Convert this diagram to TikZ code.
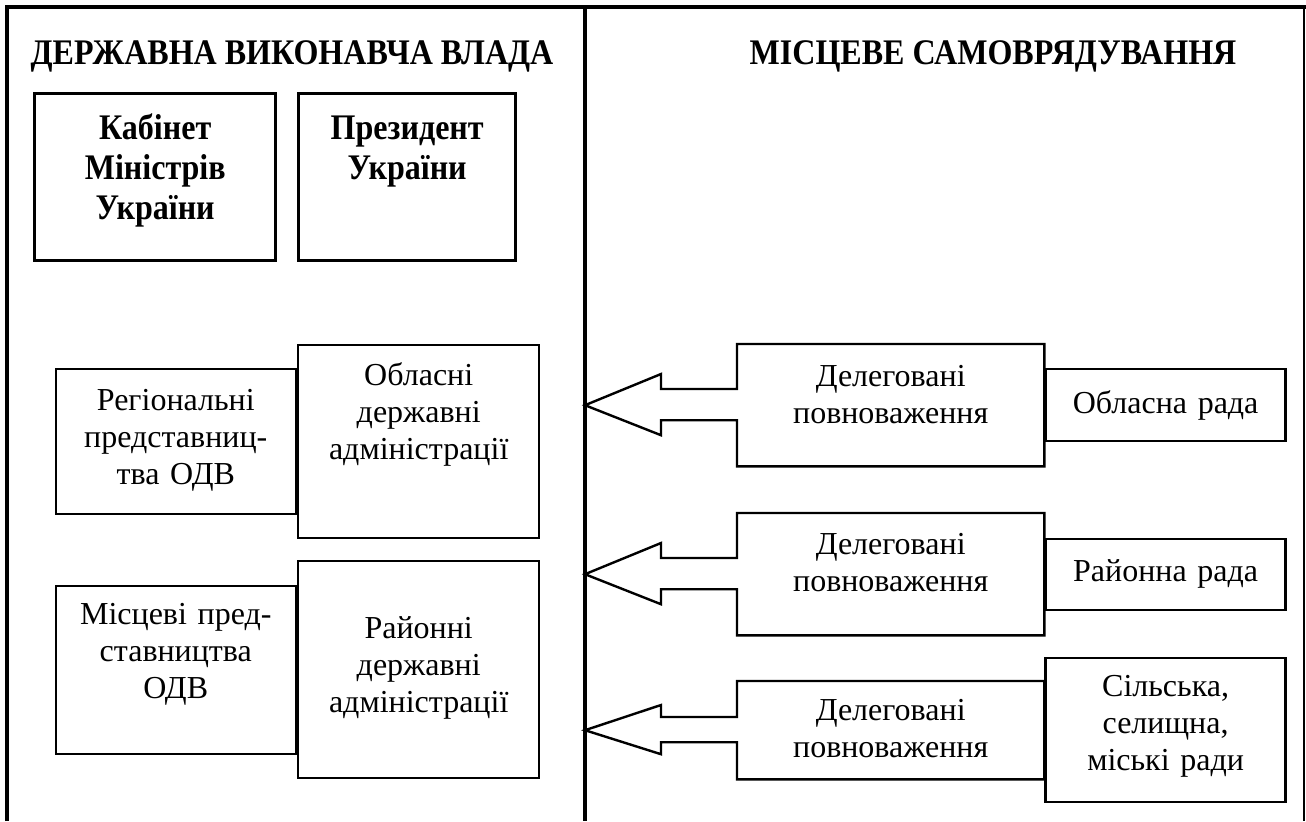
\documentclass[tikz,border=0pt]{standalone}
\usepackage{fontspec}
\setmainfont{Liberation Serif}[BoldFeatures={FakeStretch=0.89}]
\usetikzlibrary{positioning}

\tikzset{
  frame/.style={line width=2pt},
  box/.style={draw, line width=1.2pt, inner sep=0pt, align=center,
    font=\fontsize{16}{18.5}\selectfont},
  bigbox/.style={box, line width=1.7pt, font=\bfseries\fontsize{18}{20}\selectfont},
  plain/.style={box, draw=none},
  boxsize/.style 2 args={minimum width=#1, text width=#1, minimum height=#2},
  lift/.style={text height=0pt, text depth=#1},
  head/.style={font=\bfseries\fontsize{18}{20}\selectfont},
  blk/.style={line width=1.2pt, line join=miter},
}

\begin{document}
\begin{tikzpicture}[x=0.5pt,y=-0.5pt]
\useasboundingbox (0,0) rectangle (1306,821);
% frame
\coordinate (mid) at (585,7);
\draw[frame] (7,821) -- (7,7) -- (1306,7);
\draw[frame] (mid) -- (585,821);
\draw[line width=1.3pt] (1304,7) -- (1304,821);
\node[head, anchor=base] (dvv) at (292,64) {ДЕРЖАВНА ВИКОНАВЧА ВЛАДА};
\node[head, anchor=base] (msv) at (993,64) {МІСЦЕВЕ САМОВРЯДУВАННЯ};
% top level
\node[bigbox, boxsize={120.5pt}{83.5pt}, lift=37.5pt, anchor=north west] (kmu) at (33,92) {Кабінет\\Міністрів\\України};
\node[bigbox, boxsize={108.5pt}{83.5pt}, lift=37.5pt, anchor=north west] (pu) at (297,92) {Президент\\України};
% state administrations
\node[box, boxsize={120.5pt}{96.5pt}, lift=56.5pt, anchor=north west] (oda) at (297,344) {Обласні\\державні\\адміністрації};
\node[box, boxsize={120pt}{72.5pt}, lift=31.5pt, anchor=east] (reg) at (oda.west) {Регіональні\\представниц-\\тва ОДВ};
\node[box, boxsize={120.5pt}{108.5pt}, lift=31.5pt, anchor=north west] (rda) at (297,560) {Районні\\державні\\адміністрації};
\node[box, boxsize={120pt}{84pt}, lift=45.5pt, anchor=east] (loc) at (rda.west) {Місцеві пред-\\ставництва\\ОДВ};
% delegated powers
\node[plain, boxsize={152.5pt}{60pt}, lift=19pt, anchor=north west] (d1) at (737,344) {Делеговані\\повноваження};
\node[plain, boxsize={152.5pt}{60pt}, lift=20pt, anchor=north west] (d2) at (737,513) {Делеговані\\повноваження};
\node[plain, boxsize={152.5pt}{48pt}, lift=10pt, anchor=north west] (d3) at (737,681) {Делеговані\\повноваження};
% councils
\node[box, boxsize={120pt}{36pt}, anchor=west] (orada) at (d1.east) {Обласна рада};
\node[box, boxsize={120pt}{35.5pt}, anchor=west] (rrada) at (d2.east) {Районна рада};
\node[box, boxsize={120pt}{72pt}, lift=34pt, anchor=west] (srada) at (d3.east) {Сільська,\\селищна,\\міські ради};
% block arrows
\coordinate (t1) at (d1.west -| mid);
\coordinate (t2) at (d2.west -| mid);
\coordinate (t3) at (d3.west -| mid);
\draw[blk] (d1.north west) -- ++(0,45) -- ++(-76,0) -- ++(0,-15) -- (t1)
  -- ++(76,30) -- ++(0,-15) -- ++(76,0) -- (d1.south west) -- (d1.south east) -- (d1.north east) -- cycle;
\draw[blk] (d2.north west) -- ++(0,45) -- ++(-76,0) -- ++(0,-15) -- (t2)
  -- ++(76,30) -- ++(0,-15) -- ++(76,0) -- (d2.south west) -- (d2.south east) -- (d2.north east) -- cycle;
\draw[blk] (d3.north west) -- ++(0,36) -- ++(-76,0) -- ++(0,-12) -- (t3)
  -- ++(76,24) -- ++(0,-12) -- ++(76,0) -- (d3.south west) -- (d3.south east) -- (d3.north east) -- cycle;
\end{tikzpicture}
\end{document}
